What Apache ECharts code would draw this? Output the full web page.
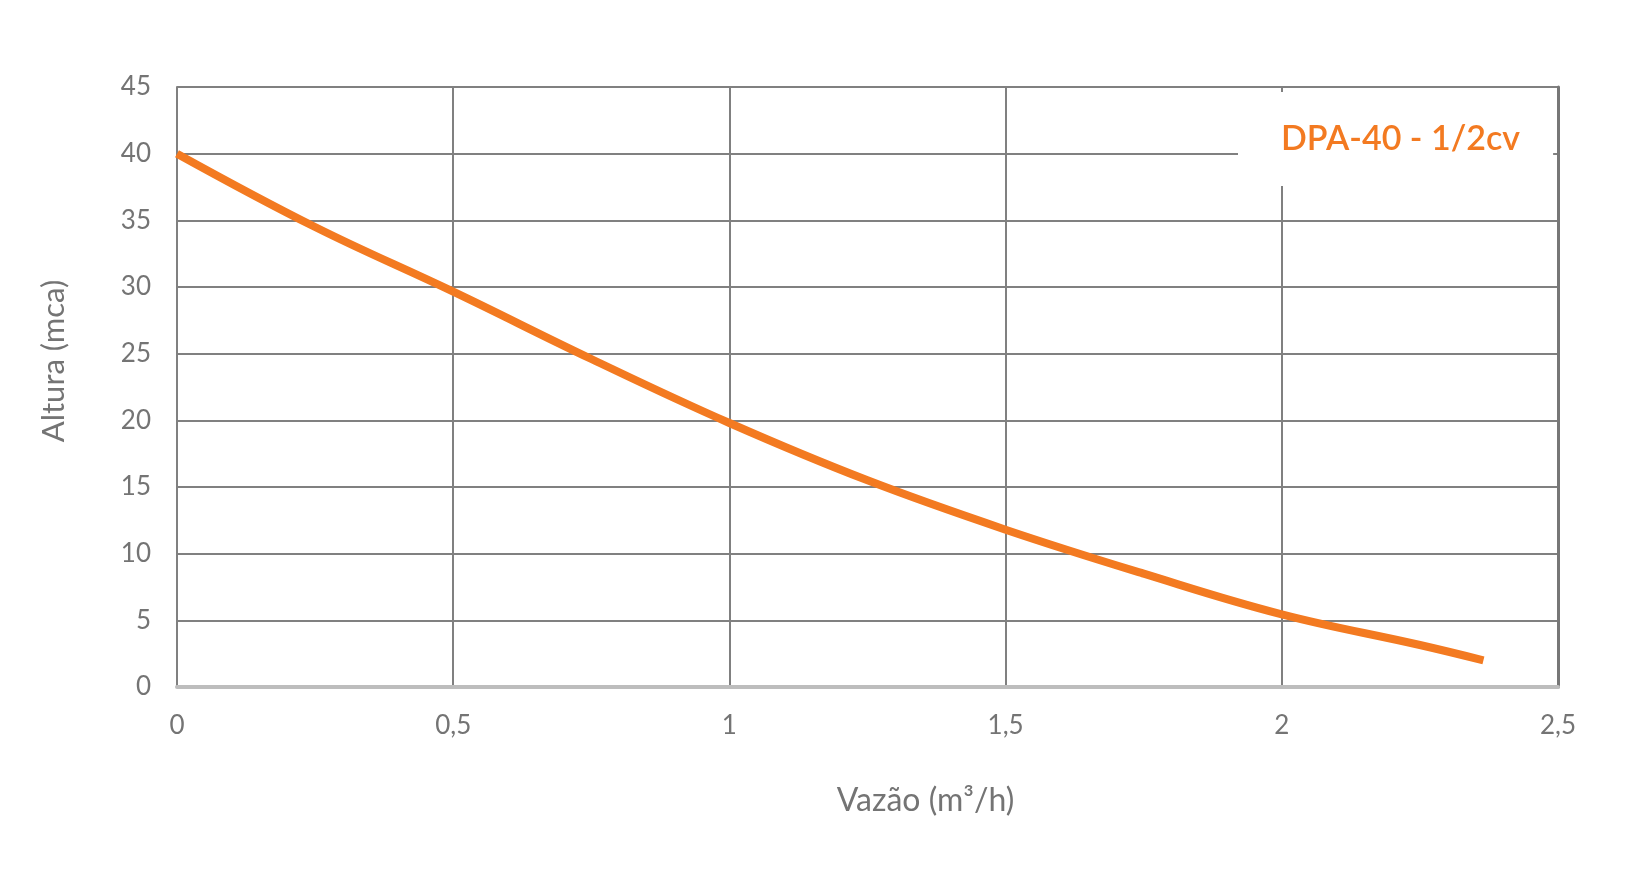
<!DOCTYPE html>
<html>
<head>
<meta charset="utf-8">
<script src="https://cdn.jsdelivr.net/npm/echarts@6/dist/echarts.min.js"></script>
<style>
html,body{margin:0;padding:0;background:#fff;}
#chart{width:1640px;height:889px;}
</style>
</head>
<body>
<div id="chart"></div>
<script>
const seriesName = 'DPA-40 - 1/2cv';
const flow = [0, 0.25, 0.5, 0.75, 1, 1.25, 1.5, 1.75, 2, 2.25, 2.365];
const head = [40, 34.5, 29.65, 24.6, 19.8, 15.5, 11.8, 8.5, 5.45, 3.15, 2.0];
const xTitle = 'Vazão (m³/h)';
const yTitle = 'Altura (mca)';

const points = flow.map((x, i) => [x, head[i]]);
const FONT = 'Lato, "Open Sans", sans-serif';
const GRAY = '#747474';
const ORANGE = '#F37A21';

const chart = echarts.init(document.getElementById('chart'));
chart.setOption({
  animation: false,
  backgroundColor: '#fff',
  textStyle: { fontFamily: FONT },
  grid: { left: 177, right: 82, top: 87, bottom: 202 },
  legend: {
    data: [seriesName],
    left: 1238,
    top: 92,
    icon: 'none',
    itemWidth: 0,
    itemGap: 0,
    padding: [30, 33, 30, 38],
    backgroundColor: '#ffffff',
    textStyle: { color: ORANGE, fontSize: 34, fontWeight: 600, fontFamily: FONT }
  },
  xAxis: {
    type: 'value',
    min: 0, max: 2.5, interval: 0.5,
    name: xTitle,
    nameLocation: 'middle',
    nameGap: 98,
    nameTextStyle: { color: GRAY, fontSize: 32, padding: [0, 0, 0, 116] },
    axisLine: { show: true, lineStyle: { color: '#bdbdbd', width: 4 } },
    axisTick: { show: false },
    axisLabel: {
      color: GRAY, fontSize: 26, margin: 26,
      formatter: v => String(v).replace('.', ',')
    },
    splitLine: { show: true, lineStyle: { color: '#808080', width: 2 } }
  },
  yAxis: [{
    type: 'value',
    min: 0, max: 45, interval: 5,
    name: yTitle,
    nameLocation: 'middle',
    nameGap: 108,
    nameTextStyle: { color: GRAY, fontSize: 31, padding: [0, 0, 0, 52] },
    axisLine: { show: true, lineStyle: { color: '#808080', width: 2 } },
    axisTick: { show: false },
    axisLabel: { color: GRAY, fontSize: 26, margin: 26 },
    splitLine: { show: true, lineStyle: { color: '#808080', width: 2 } }
  }, {
    type: 'value',
    position: 'right',
    min: 0, max: 45, interval: 5,
    axisLine: { show: true, lineStyle: { color: '#777777', width: 3 } },
    axisTick: { show: false },
    axisLabel: { show: false },
    splitLine: { show: false }
  }],
  series: [{
    name: seriesName,
    type: 'line',
    data: points,
    smooth: 0.4,
    showSymbol: false,
    symbol: 'none',
    color: ORANGE,
    lineStyle: { color: ORANGE, width: 8, cap: 'butt' },
    z: 3
  }]
});
</script>
</body>
</html>
